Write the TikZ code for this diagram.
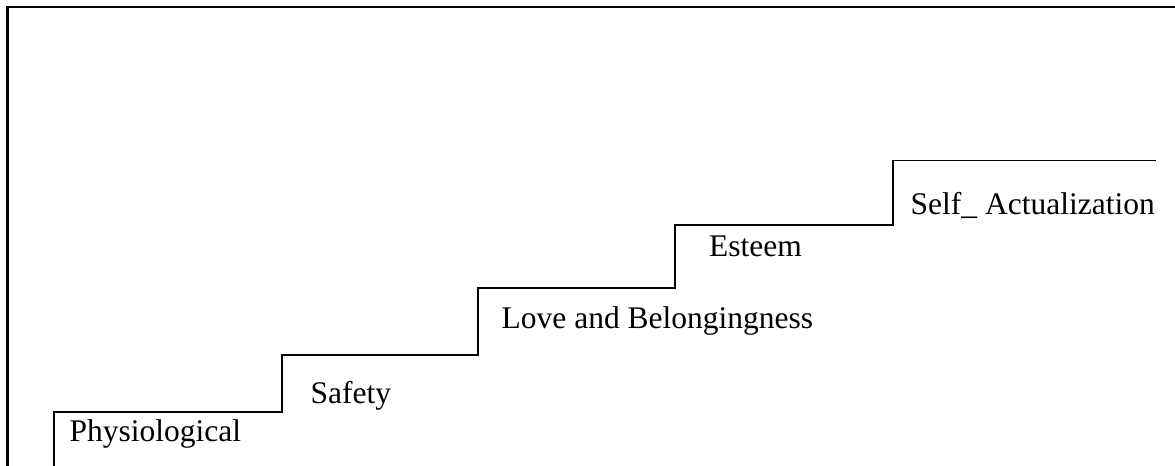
\documentclass[tikz,border=0pt]{standalone}
\usepackage{fontspec}
\setmainfont{Liberation Serif}
\begin{document}
\begin{tikzpicture}[x=1bp,y=-1bp,
  frame/.style={line width=2.3bp},
  stairline/.style={line width=1.6bp},
  level/.style={anchor=base west,inner sep=0pt,font=\fontsize{31.5bp}{36bp}\selectfont}]
\useasboundingbox (0,0) rectangle (1175,466);
% outer frame (top and left edges)
\draw[frame] (7.5,470) -- (7.5,7) -- (1180,7);
% staircase
\draw[stairline] (54,470) -- (54,412) -- (282,412) -- (282,355) -- (478,355)
  -- (478,288) -- (675,288) -- (675,225) -- (893,225) -- (893,160.5) -- (1156,160.5);
% step labels
\node[level] (phys) at (69.5,441.5) {Physiological};
\node[level] (safe) at (310.5,404) {Safety};
\node[level] (love) at (501.5,328.5) {Love and Belongingness};
\node[level] (este) at (709,256.5) {Esteem};
\node[level] (self) at (910.5,215) {Self\_ Actualization};
\end{tikzpicture}
\end{document}
